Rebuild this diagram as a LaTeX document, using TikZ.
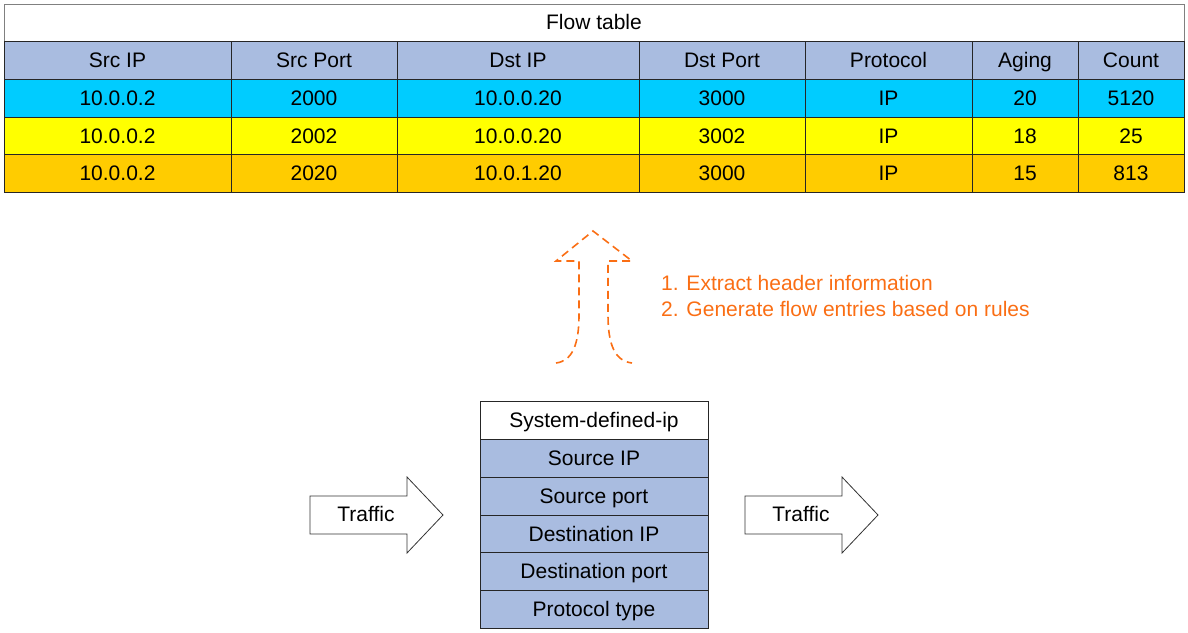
\documentclass[tikz,border=0pt]{standalone}
\usepackage{fontspec}
\setmainfont{Liberation Sans}
\definecolor{hdr}{RGB}{169,188,224}
\definecolor{rowA}{RGB}{0,204,255}
\definecolor{rowB}{RGB}{255,255,0}
\definecolor{rowC}{RGB}{255,204,0}
\definecolor{orng}{RGB}{250,110,20}
\definecolor{gborder}{RGB}{128,128,128}
\tikzset{
  txt/.style={font=\fontsize{21}{25}\selectfont, text height=16.5pt, text depth=2.5pt},
  cell/.style={txt, draw=black!85, line width=0.9pt, inner sep=0pt, minimum height=38pt},
  stackcell/.style={txt, draw=black!85, line width=0.9pt, fill=hdr, inner sep=0pt, minimum width=228pt, minimum height=38pt},
  bigarrow/.style={draw=black!80, line width=0.8pt, fill=white},
  dasharrow/.style={draw=orng, line width=1.6pt, dash pattern=on 8pt off 5pt, line join=miter},
  note/.style={txt, text=orng, anchor=west, inner sep=0pt},
  lbl/.style={txt, inner sep=0pt}
}
\begin{document}
\begin{tikzpicture}[x=1pt,y=-1pt]
\useasboundingbox (0,0) rectangle (1188,632);
% title row
\node[cell, draw=gborder, fill=white, minimum width=1180pt, minimum height=37pt] (title) at (594,22.5) {Flow table};
% header
\foreach \a/\b/\i [count=\k] in {4/231/Src IP,231/397/Src Port,397/639/Dst IP,639/805/Dst Port,805/972/Protocol,972/1078/Aging,1078/1184/Count}
  \node[cell, fill=hdr, minimum width={(\b-\a)*1pt}] (h\k) at ({(\a+\b)/2},60) {\i};
\foreach \a/\b/\i [count=\k] in {4/231/10.0.0.2,231/397/2000,397/639/10.0.0.20,639/805/3000,805/972/IP,972/1078/20,1078/1184/5120}
  \node[cell, fill=rowA, minimum width={(\b-\a)*1pt}] (a\k) at ({(\a+\b)/2},98) {\i};
\foreach \a/\b/\i [count=\k] in {4/231/10.0.0.2,231/397/2002,397/639/10.0.0.20,639/805/3002,805/972/IP,972/1078/18,1078/1184/25}
  \node[cell, fill=rowB, minimum width={(\b-\a)*1pt}] (b\k) at ({(\a+\b)/2},136) {\i};
\foreach \a/\b/\i [count=\k] in {4/231/10.0.0.2,231/397/2020,397/639/10.0.1.20,639/805/3000,805/972/IP,972/1078/15,1078/1184/813}
  \node[cell, fill=rowC, minimum width={(\b-\a)*1pt}] (c\k) at ({(\a+\b)/2},173.5) {\i};
% dashed arrow
\coordinate (tip) at (593,231);
\draw[dasharrow] (556,363) .. controls (572,361) and (579,345) .. (579,315)
  -- (579,261) -- (556,261) -- (tip) -- (632,261) -- (608,261) -- (608,315)
  .. controls (608,345) and (615,361) .. (632,363);
\node[note] (n1) at (661,283) {1. Extract header information};
\node[note] (n2) at (661,309) {2. Generate flow entries based on rules};
% stack
\node[stackcell, fill=white] (s0) at (594,420.5) {System-defined-ip};
\node[stackcell] (s1) at (594,458) {Source IP};
\node[stackcell] (s2) at (594,496) {Source port};
\node[stackcell] (s3) at (594,534) {Destination IP};
\node[stackcell] (s4) at (594,571.5) {Destination port};
\node[stackcell] (s5) at (594,609) {Protocol type};
% traffic arrows
\draw[bigarrow] (310,496) -- (407,496) -- (407,477) -- (443,515) -- (407,553) -- (407,534) -- (310,534) -- cycle;
\node[lbl] (t1) at (366,514) {Traffic};
\draw[bigarrow] (745,496) -- (842,496) -- (842,477) -- (878,515) -- (842,553) -- (842,534) -- (745,534) -- cycle;
\node[lbl] (t2) at (801,514) {Traffic};
\end{tikzpicture}
\end{document}
